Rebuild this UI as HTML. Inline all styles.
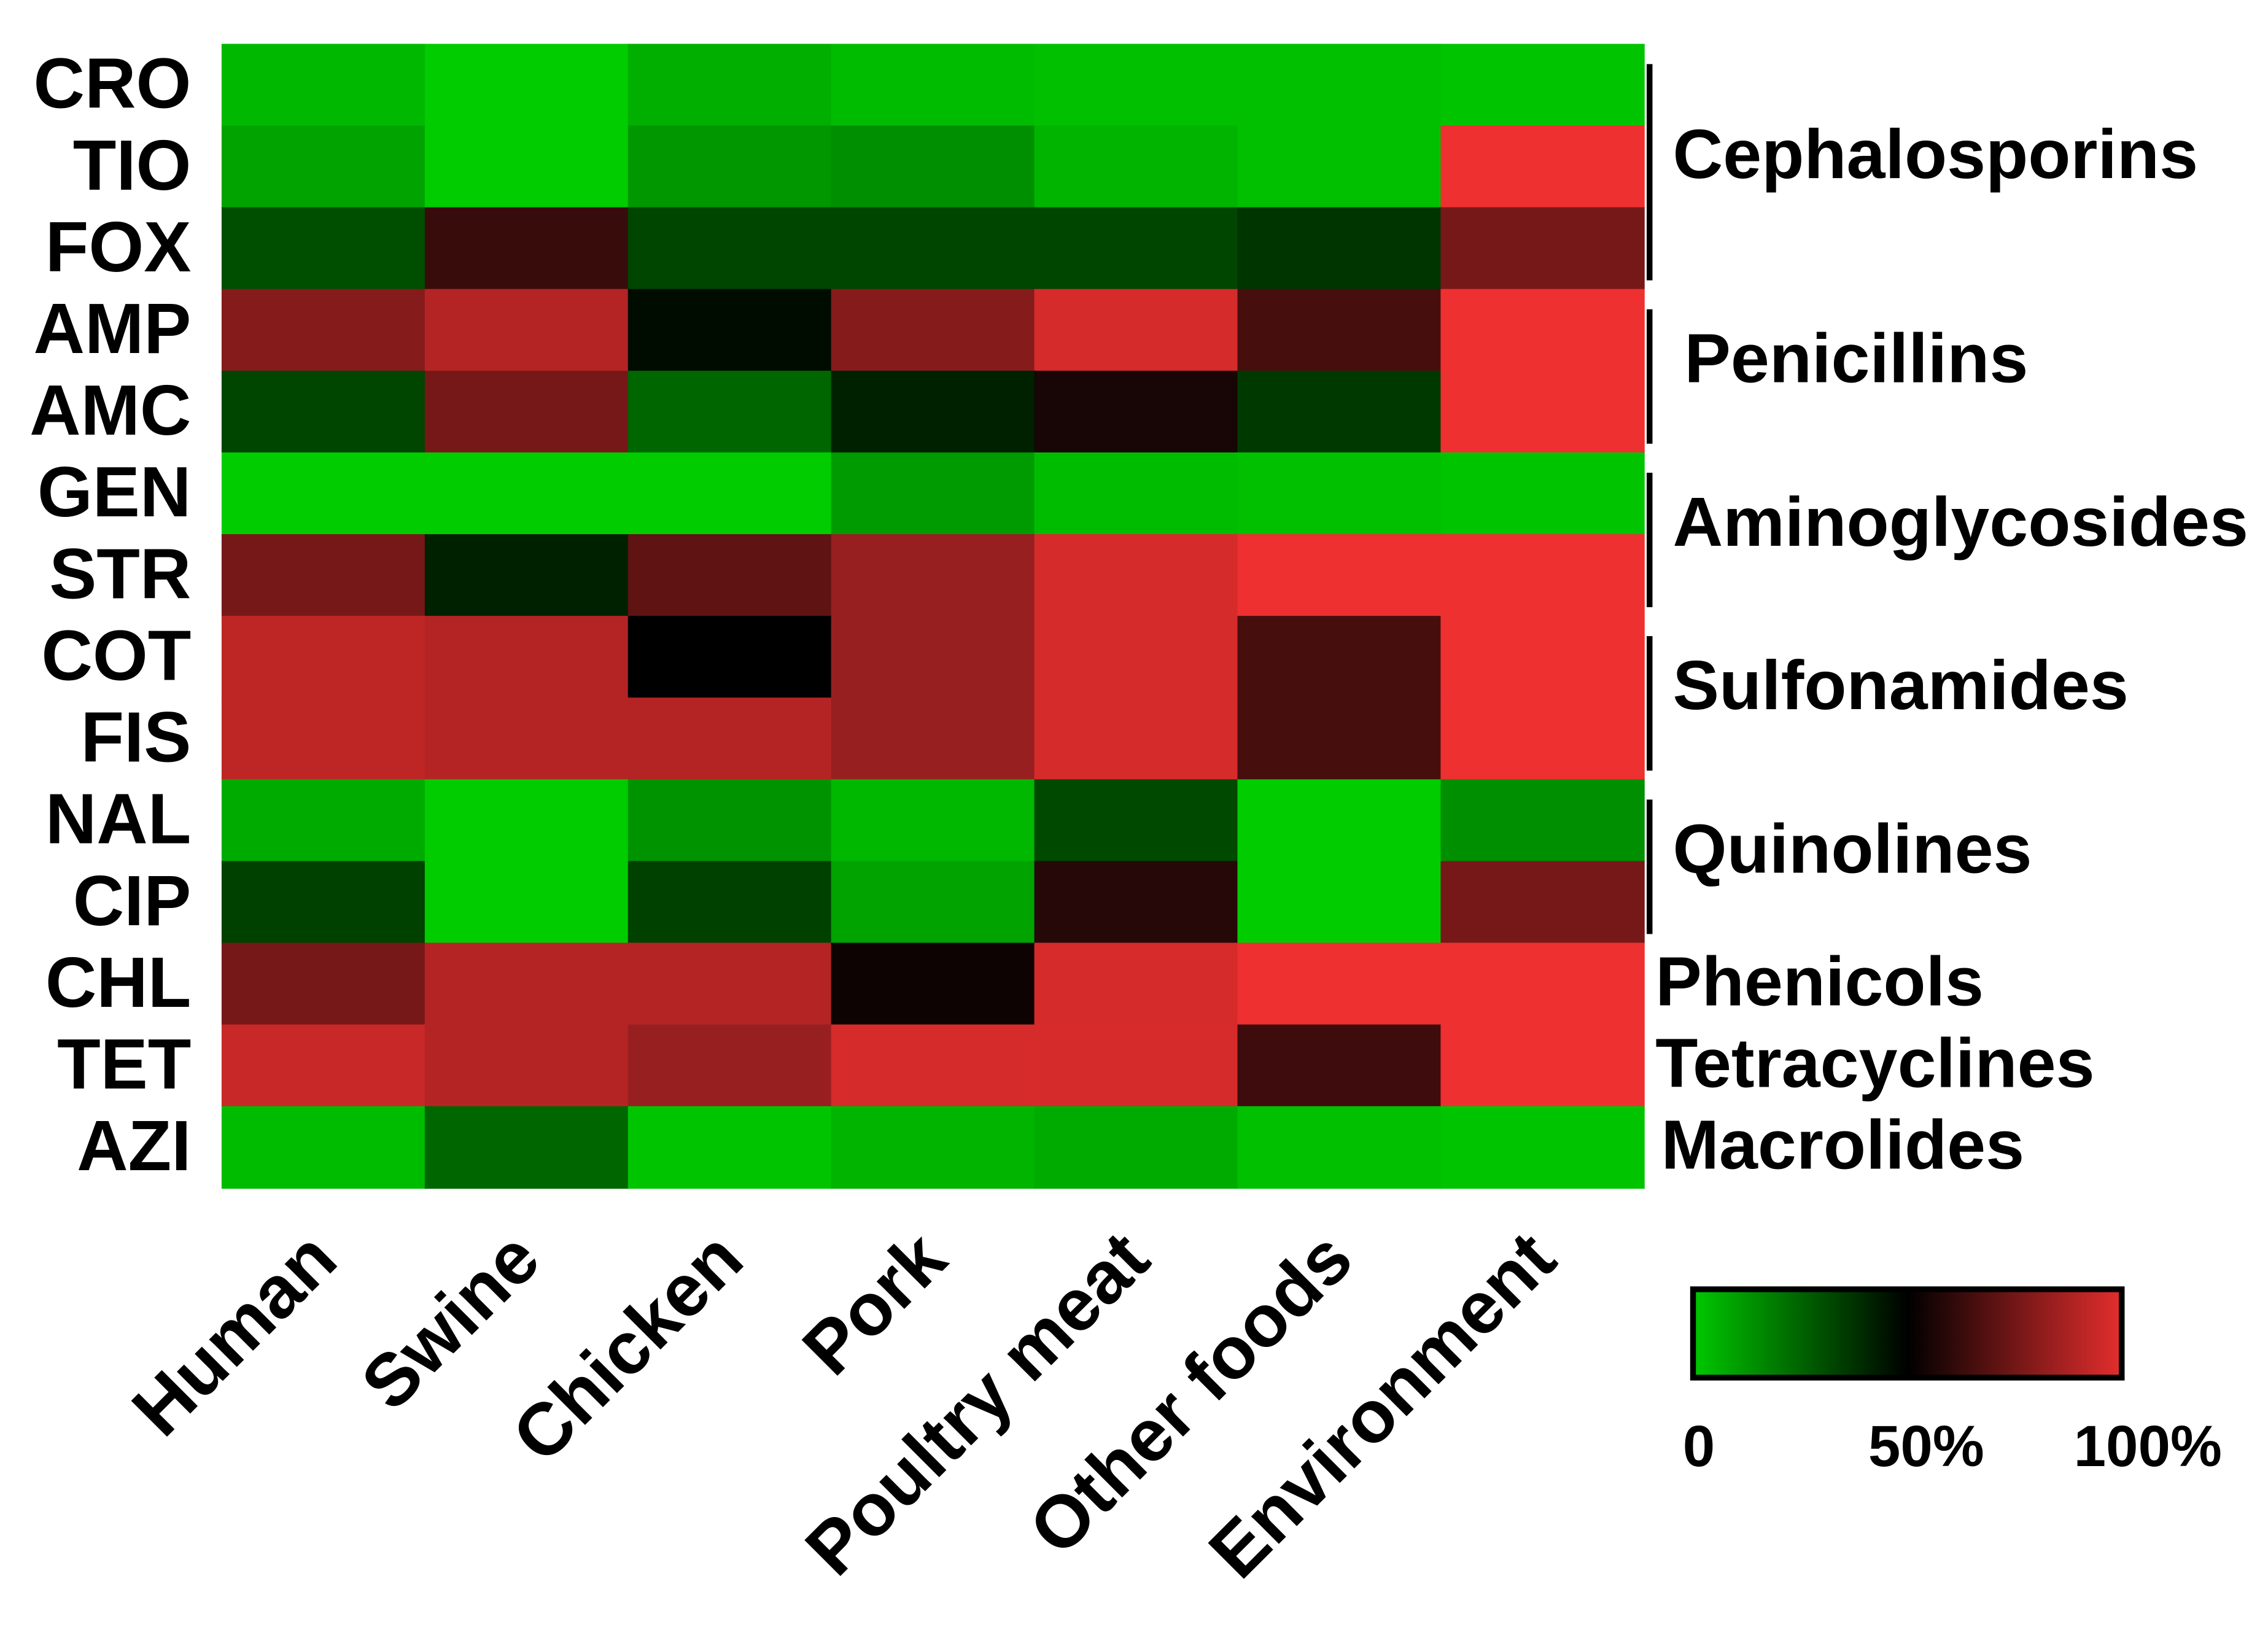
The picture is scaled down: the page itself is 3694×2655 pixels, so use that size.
<!DOCTYPE html>
<html><head><meta charset="utf-8"><style>
html,body{margin:0;padding:0;background:#fff;}
svg{display:block;font-family:"Liberation Sans",Arial,sans-serif;font-weight:bold;}
</style></head><body>
<svg id="chart" width="3694" height="2655" viewBox="0 0 1566 1125" xmlns="http://www.w3.org/2000/svg">
<defs>
<linearGradient id="grad" x1="0" x2="1" y1="0" y2="0">
<stop offset="0" stop-color="#00c800"/><stop offset="0.5" stop-color="#000"/><stop offset="1" stop-color="#e42d2d"/>
</linearGradient>
</defs>
<g id="cells"></g>
<g id="rowlabels"></g>
<g id="collabels"></g>
<g id="groups"></g>
<g>
<rect x="1169" y="890" width="296" height="61" fill="url(#grad)" stroke="#000" stroke-width="4"/>
<text x="1173" y="1012" font-size="40" text-anchor="middle">0</text>
<text x="1330" y="1012" font-size="40" text-anchor="middle">50%</text>
<text x="1483" y="1012" font-size="40" text-anchor="middle">100%</text>
</g>
</svg>
<script>
const rows = ["CRO","TIO","FOX","AMP","AMC","GEN","STR","COT","FIS","NAL","CIP","CHL","TET","AZI"];
const cols = ["Human","Swine","Chicken","Pork","Poultry meat","Other foods","Environment"];
const values = [
[0.05,0,0.07,0.04,0.03,0.03,0.02],
[0.1,0,0.13,0.15,0.06,0.03,1.0],
[0.31,0.62,0.33,0.33,0.33,0.37,0.75],
[0.78,0.88,0.47,0.78,0.95,0.65,1.0],
[0.33,0.75,0.25,0.42,0.55,0.36,1.0],
[0,0,0,0.12,0.04,0.03,0.02],
[0.75,0.42,0.7,0.82,0.95,1.0,1.0],
[0.9,0.88,0.5,0.82,0.95,0.65,1.0],
[0.9,0.88,0.88,0.82,0.95,0.65,1.0],
[0.08,0,0.14,0.05,0.32,0,0.15],
[0.34,0,0.34,0.1,0.58,0,0.75],
[0.75,0.88,0.88,0.53,0.95,1.0,1.0],
[0.92,0.88,0.82,0.95,0.95,0.63,1.0],
[0.04,0.25,0.02,0.06,0.08,0.03,0.02]
];
const groupNames = ["Cephalosporins","Penicillins","Aminoglycosides","Sulfonamides","Quinolines","Phenicols","Tetracyclines","Macrolides"];
const groupStart = [0,3,5,7,9,11,12,13];
const groupEnd = [2,4,6,8,10,11,12,13];
const groupBracket = [true,true,true,true,true,false,false,false];

const NS="http://www.w3.org/2000/svg";
const X0=153,X1=1135,Y0=30,Y1=820;
const cw=(X1-X0)/cols.length, rh=(Y1-Y0)/rows.length;
const xs=i=>X0+i*cw, ys=j=>Y0+j*rh;
function color(v){
  if(v<=0.5){const t=v/0.5;return `rgb(0,${Math.round(204*(1-t))},0)`;}
  const t=(v-0.5)/0.5;return `rgb(${Math.round(238*t)},${Math.round(48*t)},${Math.round(48*t)})`;
}
function mk(tag,parent){const e=document.createElementNS(NS,tag);parent.appendChild(e);return e;}
const gc=document.getElementById('cells');
values.forEach((row,j)=>row.forEach((v,i)=>{
  const r=mk('rect',gc);
  
  
  r.setAttribute('x',xs(i));r.setAttribute('y',ys(j));
  r.setAttribute('width',cw+0.6);r.setAttribute('height',rh+0.6);
  r.setAttribute('fill',color(v));
}));
const gr=document.getElementById('rowlabels');
rows.forEach((n,j)=>{
  const t=mk('text',gr);
  
  
  t.setAttribute('x',132);t.setAttribute('y',ys(j)+rh/2+16);
  t.setAttribute('font-size',49);t.setAttribute('text-anchor','end');
  t.textContent=n;
});
const gx=document.getElementById('collabels');
cols.forEach((n,i)=>{
  const t=mk('text',gx);
  
  
  const x=xs(i)+cw/2+12,y=872;
  t.setAttribute('x',x);t.setAttribute('y',y);
  t.setAttribute('transform',`rotate(-45 ${x} ${y})`);
  t.setAttribute('font-size',51);t.setAttribute('text-anchor','end');
  t.textContent=n;
});
const gg=document.getElementById('groups');
groupNames.forEach((n,k)=>{
  const top=ys(groupStart[k]), bot=ys(groupEnd[k]+1);
  if(groupBracket[k]){
    const l=mk('line',gg);
    
    
    l.setAttribute('x1',1139);l.setAttribute('x2',1139);
    l.setAttribute('y1',top+14);l.setAttribute('y2',bot-6);
    l.setAttribute('stroke','#000');l.setAttribute('stroke-width',4);
  }
  const t=mk('text',gg);
  
  
  t.setAttribute('x',groupBracket[k]?(n==="Penicillins"?1163:1155):(n==="Macrolides"?1147:1143));
  t.setAttribute('y',(top+bot)/2+(groupBracket[k]?8:15));
  t.setAttribute('font-size',48);
  t.textContent=n;
});
</script>
</body></html>
